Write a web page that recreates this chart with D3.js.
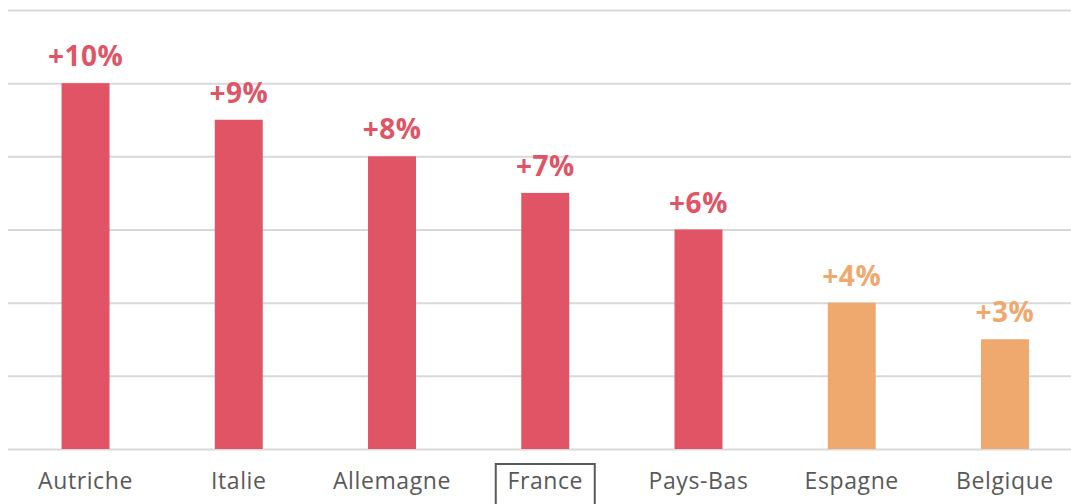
<!DOCTYPE html>
<html>
<head>
<meta charset="utf-8">
<script src="https://cdn.jsdelivr.net/npm/d3@7"></script>
<style>
  html, body { margin: 0; padding: 0; background: #fff; }
  svg { display: block; }
</style>
</head>
<body>
<div id="chart"></div>
<script>
const width = 1071;
const height = 504;

// data
const countries = ["Autriche", "Italie", "Allemagne", "France", "Pays-Bas", "Espagne", "Belgique"];
const growth = [10, 9, 8, 7, 6, 4, 3];
const highlighted = ["Espagne", "Belgique"];
const gridTicks = [0, 2, 4, 6, 8, 10, 12];
const boxedLabel = "France";

const red = "#E05465";
const orange = "#EFA96E";

const svg = d3.select("#chart")
    .append("svg")
    .attr("width", width)
    .attr("height", height);

const x = d3.scaleBand()
    .domain(countries)
    .range([8.9, 1081.6])
    .paddingInner(0.687)
    .paddingOuter(0.3435);

const y = d3.scaleLinear()
    .domain([0, 12])
    .range([449, 10]);

// gridlines
svg.append("g")
    .attr("transform", "translate(8,0)")
    .call(d3.axisLeft(y).tickValues(gridTicks).tickSize(-(width - 8)).tickFormat(""))
    .call(g => g.select(".domain").remove())
    .selectAll("line")
    .attr("stroke", "#d9d9d9")
    .attr("stroke-width", 2);

const data = countries.map((c, i) => ({ name: c, value: growth[i] }));

// bars
svg.selectAll("rect.bar")
    .data(data)
    .enter()
    .append("rect")
    .attr("class", "bar")
    .attr("x", d => x(d.name))
    .attr("width", x.bandwidth())
    .attr("y", d => y(d.value))
    .attr("height", d => y(0) - y(d.value))
    .attr("fill", d => highlighted.includes(d.name) ? orange : red);

// value labels
svg.selectAll("text.value")
    .data(data)
    .enter()
    .append("text")
    .attr("class", "value")
    .attr("x", d => x(d.name) + x.bandwidth() / 2)
    .attr("y", d => y(d.value) - 17)
    .attr("text-anchor", "middle")
    .style("font-family", "'Open Sans', sans-serif")
    .style("font-weight", "bold")
    .style("font-size", "28px")
    .style("letter-spacing", "0.5px")
    .attr("fill", d => highlighted.includes(d.name) ? orange : red)
    .text(d => "+" + d.value + "%");

// category axis labels
const xAxis = svg.append("g")
    .attr("transform", `translate(0, ${y(0)})`)
    .call(d3.axisBottom(x).tickSize(0).tickPadding(0));
xAxis.select(".domain").remove();
xAxis.selectAll("text")
    .attr("dy", null)
    .attr("y", 40)
    .style("font-family", "'Open Sans', sans-serif")
    .style("font-size", "23px")
    .style("letter-spacing", "0.6px")
    .attr("fill", "#595959");

// box around France
svg.append("rect")
    .attr("x", x(boxedLabel) + x.bandwidth() / 2 - 49.5)
    .attr("y", 464)
    .attr("width", 99)
    .attr("height", 50)
    .attr("fill", "none")
    .attr("stroke", "#595959")
    .attr("stroke-width", 2);
</script>
</body>
</html>
